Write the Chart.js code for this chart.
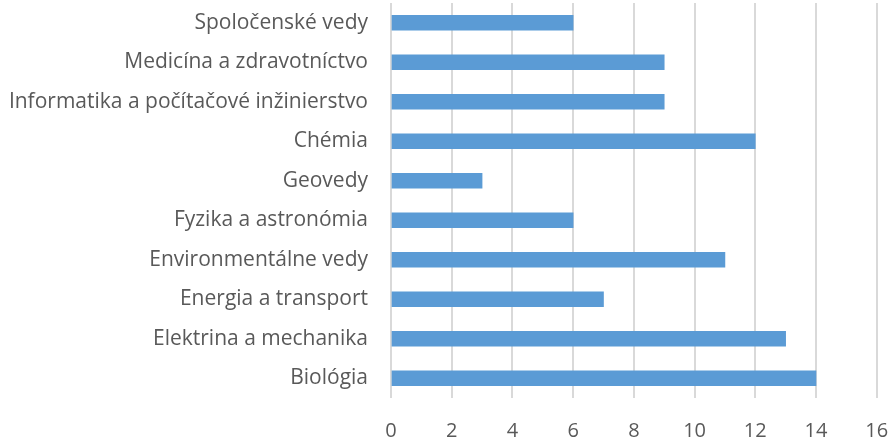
<!DOCTYPE html>
<html><head><meta charset="utf-8">
<script src="https://cdn.jsdelivr.net/npm/chart.js@4.4.0/dist/chart.umd.min.js"></script>
<style>html,body{margin:0;padding:0;background:#fff;}#wrap{width:891px;height:438px;}</style>
</head><body><div id="wrap"><canvas id="c" width="891" height="438"></canvas></div>
<script>
const categories = ["Spoločenské vedy","Medicína a zdravotníctvo","Informatika a počítačové inžinierstvo","Chémia","Geovedy","Fyzika a astronómia","Environmentálne vedy","Energia a transport","Elektrina a mechanika","Biológia"];
const values = [6,9,9,12,3,6,11,7,13,14];
const xTicks = [0,2,4,6,8,10,12,14,16];
const FONT = "'Open Sans', sans-serif";
new Chart(document.getElementById('c'), {
  type: 'bar',
  data: { labels: categories, datasets: [{ data: values, backgroundColor: '#5b9bd5', borderWidth: 0, barThickness: 15 }] },
  options: {
    indexAxis: 'y', responsive: false, animation: false,
    layout: { padding: { top: 3, right: 14.3, left: 0, bottom: 0 } },
    plugins: { legend: { display: false }, tooltip: { enabled: false } },
    scales: {
      x: { min: 0, max: 16, afterBuildTicks: s => { s.ticks = xTicks.map(v => ({value: v})); },
        grid: { color: '#d9d9d9', lineWidth: 2, drawTicks: false }, border: { display: false },
        ticks: { color: '#595959', font: { family: FONT, size: 20 }, padding: 21, maxRotation: 0 },
        afterFit: s => { s.height = 40; s.paddingLeft = 0; s.paddingRight = 0; } },
      y: { grid: { display: false }, border: { display: false },
        ticks: { color: '#595959', font: { family: FONT, size: 21 }, padding: 15, autoSkip: false },
        afterFit: s => { s.width = 391; s.paddingTop = 0; s.paddingBottom = 0; } }
    }
  }
});
</script></body></html>
